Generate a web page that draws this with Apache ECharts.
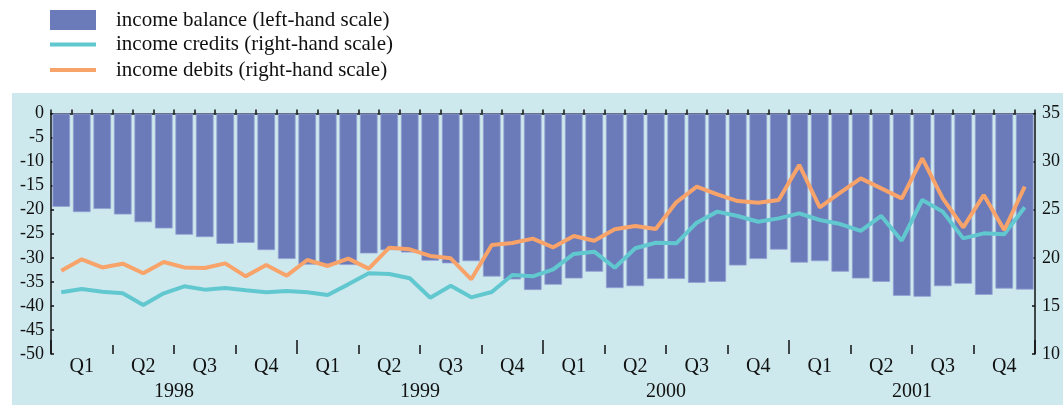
<!DOCTYPE html>
<html>
<head>
<meta charset="utf-8">
<script src="https://cdn.jsdelivr.net/npm/echarts@6/dist/echarts.min.js"></script>
<style>
  html, body { margin: 0; padding: 0; background: #ffffff; }
  #chart { width: 1063px; height: 405px; }
</style>
</head>
<body>
<div id="chart"></div>
<script>
// Monthly observations, January 1998 to December 2001
const years = ['1998', '1999', '2000', '2001'];
const quarterLabels = ['Q1', 'Q2', 'Q3', 'Q4'];
const months = [];
years.forEach(y => { for (let m = 1; m <= 12; m++) months.push(y + '-' + String(m).padStart(2, '0')); });
const quarters = [];
years.forEach(() => quarterLabels.forEach(q => quarters.push(q)));

const leftTicks = { min: -50, max: 0, step: 5 };
const rightTicks = { min: 10, max: 35, step: 5 };

const seriesNames = [
  'income balance (left-hand scale)',
  'income credits (right-hand scale)',
  'income debits (right-hand scale)'
];

// income balance (left-hand scale)
const incomeBalance = [
  -19.4, -20.5, -19.85, -21.0, -22.6, -23.9, -25.2, -25.7, -27.1, -26.9, -28.4, -30.25,
  -31.4, -31.4, -31.5, -29.1, -28.4, -28.9, -30.6, -31.15, -30.7, -33.9, -34.5, -36.7,
  -35.6, -34.3, -32.9, -36.3, -35.9, -34.4, -34.4, -35.2, -35.0, -31.6, -30.25, -28.3,
  -31.0, -30.7, -32.9, -34.3, -35.0, -37.9, -38.1, -35.9, -35.4, -37.7, -36.4, -36.6
];

// income credits (right-hand scale)
const incomeCredits = [
  16.41, 16.76, 16.48, 16.31, 15.09, 16.31, 17.04, 16.69, 16.86, 16.62, 16.41, 16.55,
  16.41, 16.13, 17.24, 18.39, 18.32, 17.87, 15.85, 17.10, 15.89, 16.44, 18.21, 18.08,
  18.80, 20.40, 20.64, 18.97, 20.99, 21.57, 21.50, 23.65, 24.80, 24.35, 23.75, 24.10,
  24.62, 23.93, 23.51, 22.79, 24.35, 21.78, 26.01, 24.80, 22.02, 22.54, 22.44, 25.25
];

// income debits (right-hand scale)
const incomeDebits = [
  18.66, 19.84, 19.00, 19.39, 18.39, 19.56, 19.00, 18.94, 19.42, 18.07, 19.25, 18.14,
  19.77, 19.15, 19.91, 18.87, 21.05, 20.88, 20.19, 19.95, 17.76, 21.33, 21.54, 21.99,
  21.09, 22.27, 21.78, 22.96, 23.31, 23.00, 25.77, 27.39, 26.60, 25.90, 25.73, 26.00,
  29.65, 25.25, 26.77, 28.26, 27.22, 26.18, 30.34, 26.18, 23.17, 26.53, 22.89, 27.39
];

const colors = { bar: '#6b7ab8', credits: '#62c8d0', debits: '#f8a36a', panel: '#cde9ed', ink: '#111111' };
const serif = '"Liberation Serif", "Times New Roman", serif';

const axisLineStyle = { color: colors.ink, width: 1.5 };

function legendFor(name, top, iconHeight) {
  return {
    data: [name],
    left: 50,
    top: top,
    padding: 0,
    orient: 'vertical',
    icon: 'rect',
    itemWidth: 46,
    itemHeight: iconHeight,
    itemStyle: { borderWidth: 0 },
    selectedMode: false,
    formatter: '{t|{name}}',
    textStyle: {
      color: colors.ink, fontFamily: serif, fontSize: 21,
      rich: { t: { color: colors.ink, fontFamily: serif, fontSize: 21, padding: [0, 0, 0, 15], lineHeight: 20 } }
    }
  };
}

const chart = echarts.init(document.getElementById('chart'), null, { renderer: 'canvas' });

chart.setOption({
  animation: false,
  backgroundColor: '#ffffff',
  graphic: [{
    type: 'rect', z: -10, silent: true,
    shape: { x: 12, y: 93, width: 1060, height: 320 },
    style: { fill: colors.panel }
  }],
  legend: [
    legendFor(seriesNames[0], 9.5, 20),
    legendFor(seriesNames[1], 34, 4),
    legendFor(seriesNames[2], 59.5, 4)
  ],
  grid: { left: 51, right: 27, top: 113.5, bottom: 51, containLabel: false },
  xAxis: [
    {
      type: 'category', data: months, position: 'bottom', boundaryGap: true,
      axisLine: { show: true, lineStyle: axisLineStyle },
      axisTick: { show: true, inside: true, length: 4, interval: 0, lineStyle: axisLineStyle },
      axisLabel: { show: false },
      splitLine: { show: false }
    },
    {
      type: 'category', data: quarters, position: 'bottom', boundaryGap: true,
      axisLine: { show: false },
      axisTick: { show: true, inside: true, length: 9, interval: 0, lineStyle: axisLineStyle },
      axisLabel: { show: true, interval: 0, margin: 3, color: colors.ink, fontFamily: serif, fontSize: 20 },
      splitLine: { show: false }
    },
    {
      type: 'category', data: years, position: 'bottom', boundaryGap: true,
      axisLine: { show: false },
      axisTick: { show: true, inside: true, length: 14, interval: 0, lineStyle: axisLineStyle },
      axisLabel: { show: true, interval: 0, margin: 28, color: colors.ink, fontFamily: serif, fontSize: 20 },
      splitLine: { show: false }
    }
  ],
  yAxis: [
    {
      type: 'value', position: 'left',
      min: leftTicks.min, max: leftTicks.max, interval: leftTicks.step,
      axisLine: { show: true, lineStyle: axisLineStyle },
      axisTick: { show: true, inside: true, length: 3, lineStyle: axisLineStyle },
      axisLabel: { margin: 7, color: colors.ink, fontFamily: serif, fontSize: 18 },
      splitLine: { show: false }
    },
    {
      type: 'value', position: 'right',
      min: rightTicks.min, max: rightTicks.max, interval: rightTicks.step,
      axisLine: { show: true, lineStyle: axisLineStyle },
      axisTick: { show: true, inside: true, length: 3, lineStyle: axisLineStyle },
      axisLabel: { margin: 7, color: colors.ink, fontFamily: serif, fontSize: 18 },
      splitLine: { show: false }
    }
  ],
  series: [
    {
      name: seriesNames[0], type: 'bar', xAxisIndex: 0, yAxisIndex: 0,
      data: incomeBalance, barCategoryGap: '14%',
      color: colors.bar,
      itemStyle: { color: colors.bar, borderColor: '#93a0d3', borderWidth: 0.8 },
      z: 2
    },
    {
      name: seriesNames[1], type: 'line', xAxisIndex: 0, yAxisIndex: 1,
      data: incomeCredits, symbol: 'none', smooth: false,
      color: colors.credits,
      lineStyle: { color: colors.credits, width: 4 },
      z: 3
    },
    {
      name: seriesNames[2], type: 'line', xAxisIndex: 0, yAxisIndex: 1,
      data: incomeDebits, symbol: 'none', smooth: false,
      color: colors.debits,
      lineStyle: { color: colors.debits, width: 4 },
      z: 4
    }
  ]
});
</script>
</body>
</html>
